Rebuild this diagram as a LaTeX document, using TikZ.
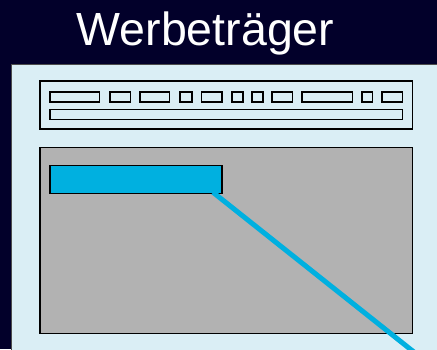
\documentclass[tikz,border=0pt]{standalone}
\usepackage{fontspec}
\setmainfont{Liberation Sans}
\definecolor{navy}{RGB}{2,0,42}
\definecolor{panel}{RGB}{218,238,245}
\definecolor{graybox}{RGB}{178,178,178}
\definecolor{cyanbox}{RGB}{0,176,224}
\begin{document}
\begin{tikzpicture}[x=1pt,y=-1pt,
  box/.style={draw=black, line width=1.4pt, inner sep=0pt, outer sep=0pt, fill=panel},
  btn/.style={box, minimum height=10pt}]
\useasboundingbox (0,0) rectangle (437,349);
\clip (0,0) rectangle (437,349);
\fill[navy] (0,0) rectangle (437,349);
\node[text=white, font=\fontsize{46.5}{50}\selectfont, anchor=base] (title) at (205.5,45) {Werbeträger};
\fill[panel, draw=black!70, line width=0.6pt] (11.3,64) rectangle (440,352);
% toolbar
\node[box, minimum width=372.5pt, minimum height=48pt] (bar) at (226.25,105) {};
\node[btn, minimum width=49.5pt] (b1) at (74.75,97) {};
\node[btn, minimum width=20.5pt] (b2) at (120.25,97) {};
\node[btn, minimum width=29.5pt] (b3) at (154.75,97) {};
\node[btn, minimum width=12pt] (b4) at (186,97) {};
\node[btn, minimum width=20.5pt] (b5) at (211.75,97) {};
\node[btn, minimum width=11pt] (b6) at (237.5,97) {};
\node[btn, minimum width=11pt] (b7) at (257.5,97) {};
\node[btn, minimum width=20.5pt] (b8) at (282.25,97) {};
\node[btn, minimum width=50.5pt] (b9) at (327.25,97) {};
\node[btn, minimum width=10.5pt] (b10) at (367.25,97) {};
\node[btn, minimum width=20.5pt] (b11) at (392.25,97) {};
\node[btn, minimum width=352.5pt] (long) at (226.25,114.3) {};
% content
\node[box, line width=1.2pt, fill=graybox, minimum width=372.5pt, minimum height=186pt] (content) at (226.25,240.3) {};
\node[box, fill=cyanbox, minimum width=172pt, minimum height=27.6pt] (ad) at (136,179.5) {};
\coordinate (tail) at (430,364.8);
\draw[cyanbox, line width=5pt] ([xshift=-9pt,yshift=1pt]ad.south east) -- (tail);
\end{tikzpicture}
\end{document}
